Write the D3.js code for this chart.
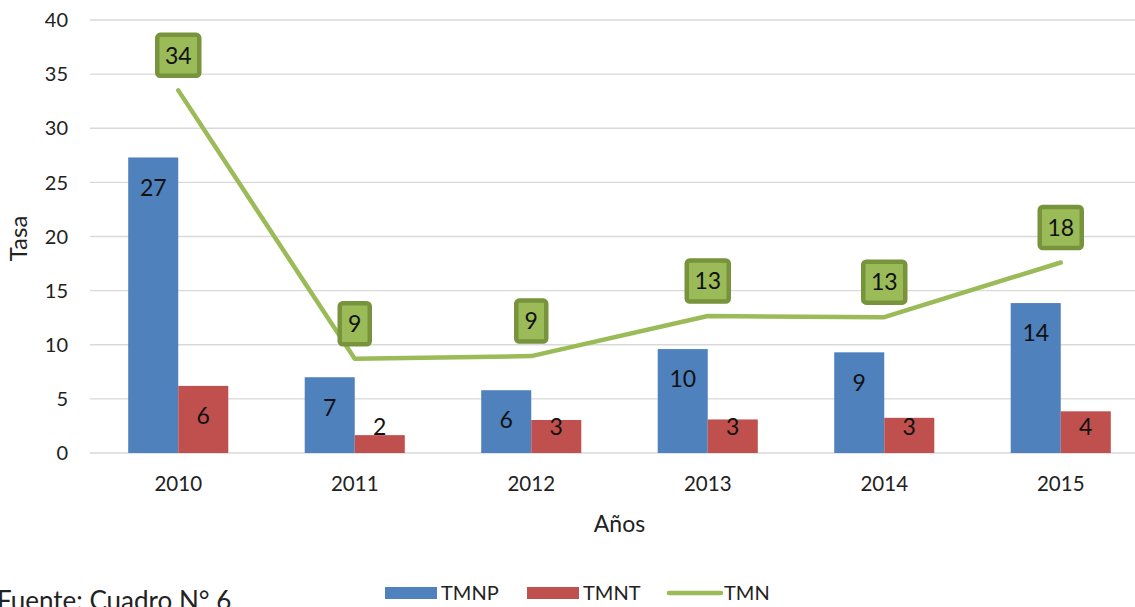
<!DOCTYPE html>
<html>
<head>
<meta charset="utf-8">
<script src="https://cdn.jsdelivr.net/npm/d3@7"></script>
<style>
  html, body { margin: 0; padding: 0; background: #fff; overflow: hidden; }
  svg { display: block; font-family: Lato, "Open Sans", sans-serif; }
</style>
</head>
<body>
<svg id="chart" width="1135" height="607"></svg>
<script>
const years = ['2010', '2011', '2012', '2013', '2014', '2015'];
const tmnp = [27.3, 7.0, 5.8, 9.6, 9.3, 13.85];
const tmnt = [6.2, 1.65, 3.05, 3.1, 3.25, 3.85];
const tmn = [33.5, 8.7, 8.95, 12.65, 12.55, 17.6];
const yTicks = [0, 5, 10, 15, 20, 25, 30, 35, 40];
const seriesNames = ['TMNP', 'TMNT', 'TMN'];

const BLUE = '#4F81BD';
const RED = '#C0504D';
const GREEN = '#9BBB59';
const OLIVE = '#77933C';

const svg = d3.select('#chart');
const plot = { left: 90, right: 1149, top: 20, bottom: 453 };

const x = d3.scaleBand()
  .domain(years)
  .range([plot.left, plot.right])
  .paddingInner(0.433)
  .paddingOuter(0.2165);

const xSub = d3.scaleBand()
  .domain(['TMNP', 'TMNT'])
  .range([0, x.bandwidth()]);

const y = d3.scaleLinear().domain([0, 40]).range([plot.bottom, plot.top]);

const xMid = d => x(d) + x.bandwidth() / 2;

// grid
svg.append('g')
  .selectAll('line')
  .data(yTicks)
  .join('line')
  .attr('x1', plot.left).attr('x2', plot.right)
  .attr('y1', d => y(d)).attr('y2', d => y(d))
  .attr('stroke', '#D9D9D9')
  .attr('stroke-width', 1.3);

// y axis labels
svg.append('g')
  .selectAll('text')
  .data(yTicks)
  .join('text')
  .attr('x', 68)
  .attr('y', d => y(d))
  .attr('dy', '0.36em')
  .attr('text-anchor', 'end')
  .attr('font-size', 20)
  .attr('fill', '#222')
  .text(d => d);

// x axis labels
svg.append('g')
  .selectAll('text')
  .data(years)
  .join('text')
  .attr('x', d => xMid(d))
  .attr('y', 484)
  .attr('dy', '0.36em')
  .attr('text-anchor', 'middle')
  .attr('font-size', 20.5)
  .attr('fill', '#222')
  .text(d => d);

// bars
const barData = [];
years.forEach((yr, i) => {
  barData.push({ year: yr, key: 'TMNP', value: tmnp[i], color: BLUE });
  barData.push({ year: yr, key: 'TMNT', value: tmnt[i], color: RED });
});

svg.append('g')
  .selectAll('rect')
  .data(barData)
  .join('rect')
  .attr('x', d => x(d.year) + xSub(d.key))
  .attr('width', xSub.bandwidth())
  .attr('y', d => y(d.value))
  .attr('height', d => y(0) - y(d.value))
  .attr('fill', d => d.color);

svg.append('g')
  .selectAll('text')
  .data(barData)
  .join('text')
  .attr('x', d => x(d.year) + xSub(d.key) + xSub.bandwidth() / 2)
  .attr('y', d => Math.min(y(d.value) + 30, y(0) - 26))
  .attr('dy', '0.36em')
  .attr('text-anchor', 'middle')
  .attr('font-size', 23)
  .attr('fill', '#111')
  .text(d => Math.round(d.value));

// line
const line = d3.line()
  .x((d, i) => xMid(years[i]))
  .y(d => y(d));

svg.append('path')
  .datum(tmn)
  .attr('d', line)
  .attr('fill', 'none')
  .attr('stroke', GREEN)
  .attr('stroke-width', 4.5)
  .attr('stroke-linejoin', 'round')
  .attr('stroke-linecap', 'round');

// line labels
const lbl = svg.append('g')
  .selectAll('g')
  .data(tmn)
  .join('g')
  .attr('transform', (d, i) => `translate(${xMid(years[i])},${y(d) - 35})`);

lbl.append('rect')
  .attr('x', d => -(String(Math.round(d)).length * 12 + 22) / 2 + 2)
  .attr('y', -20.5)
  .attr('width', d => String(Math.round(d)).length * 12 + 22 - 4)
  .attr('height', 41)
  .attr('rx', 3)
  .attr('fill', GREEN)
  .attr('stroke', OLIVE)
  .attr('stroke-width', 4.5);

lbl.append('text')
  .attr('text-anchor', 'middle')
  .attr('dy', '0.36em')
  .attr('font-size', 23)
  .attr('fill', '#111')
  .text(d => Math.round(d));

// axis titles
svg.append('text')
  .attr('transform', `translate(27,${(plot.top + plot.bottom) / 2 + 2}) rotate(-90)`)
  .attr('text-anchor', 'middle')
  .attr('font-size', 24)
  .attr('fill', '#222')
  .text('Tasa');

svg.append('text')
  .attr('x', (plot.left + plot.right) / 2)
  .attr('y', 532)
  .attr('text-anchor', 'middle')
  .attr('font-size', 23)
  .attr('fill', '#222')
  .text('Años');

// source
svg.append('text')
  .attr('x', -3)
  .attr('y', 610)
  .attr('font-size', 26)
  .attr('fill', '#222')
  .text('Fuente: Cuadro N° 6');

// legend
const legendX = [385, 527, 667];
const legendColors = [BLUE, RED, GREEN];
const leg = svg.append('g')
  .selectAll('g')
  .data(seriesNames)
  .join('g')
  .attr('transform', (d, i) => `translate(${legendX[i]},593)`);

leg.each(function (d, i) {
  const g = d3.select(this);
  if (i < 2) {
    g.append('rect').attr('x', 0).attr('y', -6).attr('width', 52).attr('height', 12).attr('fill', legendColors[i]);
  } else {
    g.append('line').attr('x1', 2).attr('x2', 54).attr('y1', 0).attr('y2', 0)
      .attr('stroke', GREEN).attr('stroke-width', 4.5).attr('stroke-linecap', 'round');
  }
  g.append('text')
    .attr('x', i < 2 ? 56 : 57)
    .attr('dy', '0.36em')
    .attr('font-size', 20)
    .attr('fill', '#222')
    .text(d);
});
</script>
</body>
</html>
